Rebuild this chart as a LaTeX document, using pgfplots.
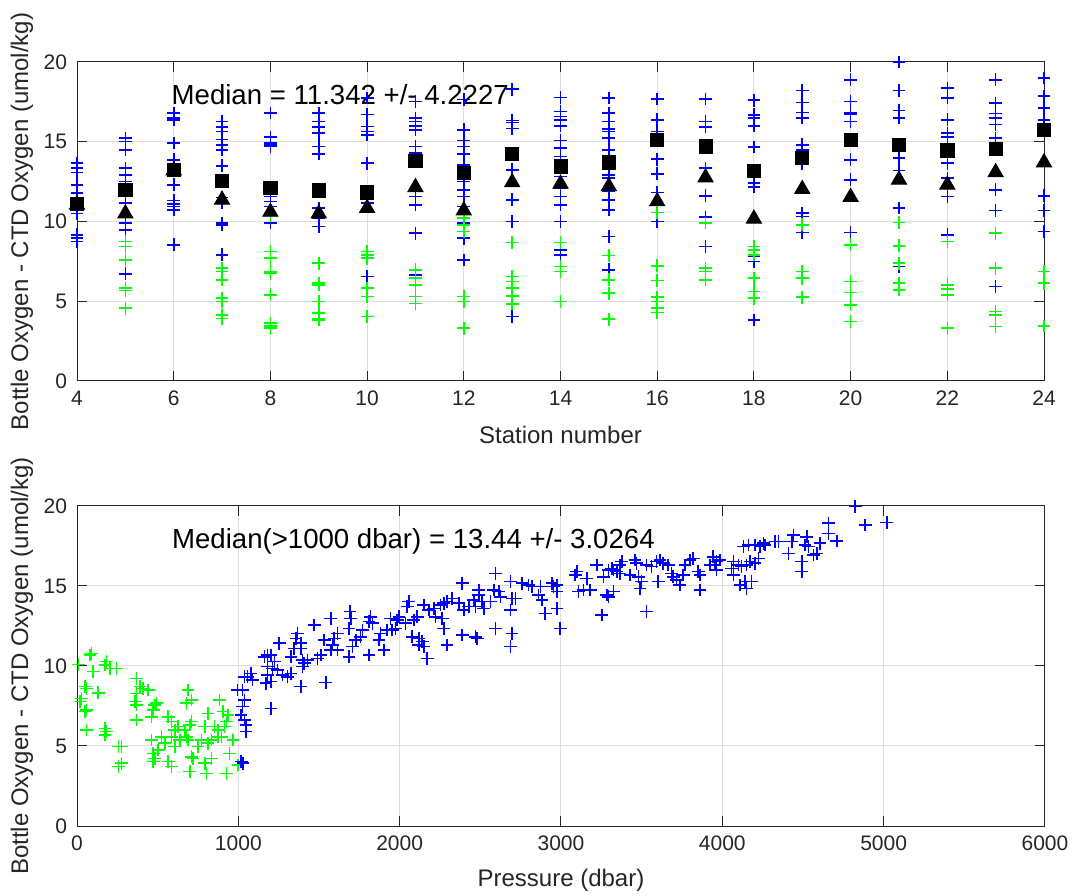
\documentclass[border=0pt]{standalone}
\usepackage{fontspec}
\setmainfont{Liberation Sans}
\usepackage{pgfplots}
\pgfplotsset{compat=1.18}
\definecolor{mblue}{rgb}{0,0,1}
\definecolor{mgreen}{rgb}{0,1,0}
\pgfplotsset{
  every axis/.append style={
    scale only axis,
    axis line style={black!85, line width=0.5bp},
    every tick/.style={black!85, line width=0.5bp},
    major tick length=5bp,
    tick align=inside,
    grid=major,
    major grid style={black!13, line width=0.5bp},
    ticklabel style={font=\fontsize{10.5bp}{12bp}\selectfont, text=black!85},
    xticklabel style={yshift=-1.5bp},
    yticklabel style={xshift=-1.5bp},
    label style={font=\fontsize{12bp}{14bp}\selectfont, text=black!85},
    /pgf/number format/assume math mode=true,
    /pgf/number format/1000 sep={},
    scaled ticks=false,
    clip=false,
    ymin=0, ymax=20, ytick={0,5,10,15,20},
  },
  bx/.style={only marks, mark=+, mark size=3.2bp, color=mblue, mark options={line width=0.8bp}},
  gx/.style={only marks, mark=+, mark size=3.2bp, color=mgreen, mark options={line width=0.8bp}},
}
\begin{document}
\begin{tikzpicture}
\fill[white] (0,0) rectangle (537.5bp,448bp);
% ---------------- top axis ----------------
\begin{axis}[
  at={(38.5bp,257.5bp)}, anchor=south west,
  width=483.5bp, height=159.5bp,
  xmin=4, xmax=24, xtick={4,6,...,24},
  xlabel={Station number},
  ylabel={Bottle Oxygen - CTD Oxygen (umol/kg)},
  xlabel style={at={(axis description cs:0.5,-0.1693)}, anchor=center},
  ylabel style={at={(axis description cs:-0.0569,0.5)}, anchor=center},
]
\addplot[bx] coordinates {
(4,13.66)(4,13.35)(4,13.07)(4,12.3)(4,11.78)(4,11.15)(4,10.94)(4,10.73)(4,10.5)(4,9.16)(4,8.95)(4,8.74)
(5,15.23)(5,15.02)(5,14.5)(5,13.35)(5,12.93)(5,12.5)(5,11.57)(5,11.15)(5,10.31)(5,9.9)(5,9.48)(5,6.72)
(6,16.8)(6,16.49)(6,16.38)(6,14.92)(6,13.87)(6,13.3)(6,12.3)(6,11.32)(6,11.1)(6,10.94)(6,10.73)(6,8.54)
(7,16.28)(7,15.92)(7,15.65)(7,15.13)(7,14.81)(7,14.5)(7,13.49)(7,11.5)(7,11.19)(7,9.9)(7,9.79)(7,7.91)
(8,16.8)(8,15.29)(8,14.92)(8,14.81)(8,14.7)(8,12.1)(8,11.57)(8,11.26)(8,10.94)(8,9.9)
(9,16.8)(9,16.28)(9,15.92)(9,15.54)(9,14.7)(9,14.25)(9,11.9)(9,10.84)(9,10.21)(9,9.69)
(10,17.74)(10,16.7)(10,15.96)(10,15.65)(10,15.44)(10,13.66)(10,11.67)(10,11.15)(10,6.55)
(11,17.53)(11,16.49)(11,16.28)(11,16.0)(11,15.75)(11,14.71)(11,14.29)(11,11.57)(11,11.05)(11,9.27)(11,6.65)
(12,17.64)(12,15.75)(12,15.08)(12,14.71)(12,14.25)(12,13.56)(12,12.51)(12,11.99)(12,11.57)(12,10.94)(12,9.9)(12,8.95)(12,7.59)
(13,18.3)(13,16.34)(13,16.21)(13,15.82)(13,13.24)(13,11.36)(13,10.0)(13,4.04)
(14,17.78)(14,16.9)(14,16.59)(14,16.38)(14,16.0)(14,15.08)(14,14.6)(14,14.08)(14,12.82)(14,12.09)(14,11.57)(14,11.05)(14,10.0)(14,8.22)(14,7.91)
(15,17.74)(15,16.8)(15,16.28)(15,15.8)(15,15.65)(15,15.23)(15,14.5)(15,13.66)(15,12.93)(15,12.72)(15,11.88)(15,11.36)(15,10.73)(15,9.06)(15,6.97)
(16,17.68)(16,16.38)(16,15.65)(16,13.91)(16,12.99)(16,11.82)(16,10.0)
(17,17.68)(17,16.28)(17,15.92)(17,13.35)(17,11.61)(17,10.27)(17,8.43)
(18,17.6)(18,16.69)(18,16.49)(18,16.0)(18,14.67)(18,12.41)(18,12.16)(18,7.8)(18,7.49)(18,3.83)
(19,18.22)(19,17.47)(19,16.84)(19,16.49)(19,14.81)(19,14.5)(19,13.66)(19,10.52)(19,10.31)(19,9.31)
(20,18.89)(20,17.53)(20,16.8)(20,16.7)(20,16.28)(20,13.87)(20,12.62)(20,9.31)
(21,20.0)(21,18.22)(21,16.97)(21,16.49)(21,14.39)(21,13.97)(21,13.2)(21,10.84)(21,7.18)
(22,18.37)(22,17.74)(22,16.38)(22,15.54)(22,15.29)(22,13.66)(22,12.72)(22,11.57)(22,9.16)
(23,18.89)(23,17.43)(23,16.76)(23,16.49)(23,16.07)(23,15.23)(23,11.99)(23,10.69)(23,5.92)
(24,19.0)(24,17.85)(24,17.11)(24,16.38)(24,11.61)(24,10.69)(24,9.37)
};
\addplot[gx] coordinates {
(5,8.74)(5,8.43)(5,7.59)(5,5.82)(5,5.67)(5,4.56)
(7,7.07)(7,6.86)(7,6.34)(7,5.19)(7,4.98)(7,4.14)(7,3.93)
(8,10.4)(8,8.12)(8,7.7)(8,6.86)(8,6.76)(8,5.4)(8,3.62)(8,3.45)(8,3.31)
(9,7.38)(9,6.13)(9,6.03)(9,4.98)(9,4.25)(9,3.93)(9,3.83)
(10,8.12)(10,7.91)(10,7.7)(10,5.82)(10,5.29)(10,4.04)
(11,6.97)(11,6.44)(11,6.03)(11,5.29)(11,4.87)
(12,10.21)(12,9.79)(12,9.37)(12,5.29)(12,4.98)(12,3.31)
(13,8.68)(13,6.55)(13,6.23)(13,5.82)(13,5.33)(13,4.83)
(14,8.68)(14,7.18)(14,6.86)(14,4.98)
(15,7.87)(15,6.34)(15,5.5)(15,3.87)
(16,10.56)(16,7.22)(16,6.3)(16,5.25)(16,4.98)(16,4.56)(16,4.29)
(17,9.9)(17,7.07)(17,6.86)(17,6.34)
(18,8.43)(18,8.22)(18,7.91)(18,6.44)(18,5.61)(18,5.19)
(19,9.79)(19,6.86)(19,6.44)(19,5.25)
(20,8.54)(20,6.23)(20,5.54)(20,4.77)(20,3.72)
(21,9.94)(21,8.47)(21,7.38)(21,6.13)(21,5.71)
(22,8.74)(22,6.03)(22,5.75)(22,5.4)(22,3.31)
(23,9.27)(23,7.07)(23,4.35)(23,4.14)(23,3.41)
(24,6.86)(24,6.13)(24,3.45)
};
\addplot[only marks, mark=square*, mark size=3.3bp, black] coordinates {
(4,11.1)(5,12.0)(6,13.24)(7,12.55)(8,12.1)(9,11.95)(10,11.82)(11,13.8)(12,13.03)(13,14.25)(14,13.45)
(15,13.7)(16,15.13)(17,14.71)(18,13.18)(19,13.97)(20,15.13)(21,14.81)(22,14.46)(23,14.54)(24,15.75)
};
\addplot[only marks, mark=triangle*, mark size=4.4bp, black] coordinates {
(4,11.05)(5,10.5)(6,13.2)(7,11.36)(8,10.6)(9,10.5)(10,10.84)(11,12.15)(12,10.69)(13,12.45)(14,12.36)
(15,12.2)(16,11.26)(17,12.76)(18,10.17)(19,12.03)(20,11.53)(21,12.62)(22,12.3)(23,13.08)(24,13.7)
};
\node[anchor=base west, inner sep=0, font=\fontsize{13.8bp}{16bp}\selectfont] at (axis cs:5.95,17.33) {Median = 11.342 +/- 4.2227};
\end{axis}
% ---------------- bottom axis ----------------
\begin{axis}[
  at={(38.5bp,35bp)}, anchor=south west,
  width=484bp, height=160bp,
  xmin=0, xmax=6000, xtick={0,1000,...,6000},
  xlabel={Pressure (dbar)},
  ylabel={Bottle Oxygen - CTD Oxygen (umol/kg)},
  xlabel style={at={(axis description cs:0.5,-0.169)}, anchor=center},
  ylabel style={at={(axis description cs:-0.0569,0.5)}, anchor=center},
]
\addplot[gx] coordinates {
(10,10.1)(91,10.79)(80,10.69)(173,10.06)(184,10.27)(204,9.85)(245,9.85)(101,9.65)(50,8.71)(60,8.6)
(132,8.33)(29,7.98)(19,7.77)(50,7.15)(60,7.25)(369,9.23)(390,8.71)(410,8.6)(441,8.5)(369,8.29)
(359,7.77)(369,7.56)(369,6.63)(482,7.56)(493,7.67)(472,7.25)(462,6.83)(565,6.83)(586,6.52)(688,8.5)
(678,7.67)(709,7.88)(884,7.88)(812,7.04)(905,7.15)(936,6.94)(926,6.52)(915,6.21)(699,6.31)(709,6.52)
(668,6.0)(678,5.58)(792,6.21)(853,6.21)(874,5.58)(895,5.58)(967,5.38)(606,6.0)(586,5.58)(462,5.38)
(472,4.54)(503,4.75)(482,4.23)(472,4.02)(565,4.02)(586,3.71)(606,4.96)(688,5.38)(709,4.33)(719,4.23)
(699,3.4)(792,3.92)(802,3.29)(833,4.23)(812,5.17)(833,5.38)(926,3.29)(946,4.54)(998,3.81)(60,6.0)
(173,6.1)(184,5.9)(173,5.69)(276,4.96)(256,4.96)(256,3.71)(276,3.92)(524,5.58)(627,6.21)(544,5.17)
(637,5.38)(750,4.96)(771,5.38)(874,6.0)
};
\addplot[bx] coordinates {
(1018,4.02)(1029,3.92)(1039,9.33)(1027,8.5)
(996,8.5)(1037,7.88)(1027,7.46)(1016,6.94)(1037,6.63)(1047,6.31)(1047,5.9)
(1692,13.40)(1697,12.98)(1573,12.98)(1470,12.56)(1820,13.08)(1831,12.67)(1810,12.77)(1944,12.98)
(1923,12.25)(1954,12.25)(1882,12.04)(1872,11.63)(1903,11.0)(1810,10.69)(1686,12.35)(1686,10.58)
(1769,12.25)(1758,11.83)(1728,11.63)(1707,11.21)(1614,12.04)(1594,11.73)(1583,11.31)(1573,11.0)
(1614,11.0)(1532,11.63)(1511,10.69)(1490,10.48)(1429,10.38)(1367,12.04)(1357,11.73)(1387,11.42)
(1346,11.1)(1326,10.58)(1408,10.17)(1398,9.96)(1253,11.42)(1181,10.69)(1161,10.58)(1202,10.69)
(1223,10.27)(1181,9.96)(1212,9.85)(1243,9.75)(1181,9.44)(1171,8.92)(1305,9.33)(1326,9.54)
(1078,9.54)(1058,9.33)(1089,9.13)(1202,7.35)(1387,8.71)(1542,8.96)(1202,9.02)(1274,9.44)
(1387,11.1)(1398,10.38)
(2387,15.17)(2593,15.79)(2583,14.75)(2614,14.65)(2686,15.27)(2696,14.23)(2686,13.5)(2758,15.17)
(2799,15.06)(2820,14.96)(2872,14.96)(2861,14.44)(2882,14.13)(2944,15.17)(2975,15.06)(2975,14.65)
(2954,14.96)(2975,13.6)(2902,13.29)(2995,12.35)(2490,14.75)(2490,14.44)(2459,14.13)(2511,14.02)
(2470,13.71)(2428,13.71)(2521,13.6)(2562,14.02)(2624,14.33)(2717,14.23)(2325,14.23)(2294,14.02)
(2274,13.92)(2253,13.81)(2212,13.6)(2181,13.5)(2150,13.81)(2057,14.02)(2047,13.71)(2088,12.88)
(2109,13.08)(2037,12.67)(1985,12.88)(1975,12.35)(1996,13.08)(2222,13.08)(2264,12.98)(2274,12.35)
(2078,11.83)(2119,11.73)(2140,11.52)(2119,11.31)(2150,11.21)(2171,10.48)(2294,11.31)(2387,11.94)
(2470,11.83)(2480,11.73)(2593,12.35)(2696,12.04)(2686,11.21)(2367,13.92)(2398,13.5)
(3098,15.9)(3088,15.69)(3160,15.48)(3222,16.31)(3263,15.58)(3294,16.0)(3315,16.1)(3325,16.0)
(3346,15.9)(3366,15.79)(3377,16.52)(3366,16.31)(3428,15.69)(3459,16.62)(3469,16.42)(3480,15.58)
(3500,15.27)(3490,14.85)(3531,16.31)(3562,16.21)(3593,16.52)(3614,16.62)(3634,16.42)(3603,15.27)
(3665,16.31)(3686,15.79)(3696,15.58)(3717,15.37)(3737,15.06)(3758,15.69)(3768,16.31)(3799,16.62)
(3820,16.73)(3851,15.9)(3861,15.69)(3861,14.75)(3923,16.31)
(3109,14.65)(3140,14.75)(3181,14.75)(3284,14.44)(3325,14.65)(3294,14.33)(3253,13.19)(3531,13.4)
(4823,19.96)(4885,18.81)(5020,18.98)(4658,18.92)(4658,18.29)(4710,17.81)(4606,17.67)(4523,18.08)
(4534,17.46)(4513,17.56)(4565,16.94)(4585,17.04)(4492,16.52)(4492,15.9)(4440,18.19)(4430,17.77)
(4409,17.04)(4347,17.77)(4327,17.77)(4264,17.56)(4254,17.67)(4233,17.46)(4202,17.56)(4161,17.56)
(4130,17.46)(4223,16.73)(4202,16.42)(4171,16.52)(4151,16.31)(4140,15.27)(4151,14.85)(4182,15.27)
(4109,15.06)(4068,16.52)(4057,16.1)(4068,15.69)(4099,16.31)(4120,16.21)(3985,16.62)(3964,16.52)
(3954,16.31)(3964,16.0)(3944,16.83)
};
\node[anchor=base west, inner sep=0, font=\fontsize{13.8bp}{16bp}\selectfont] at (axis cs:587,17.36) {Median(>1000 dbar) = 13.44 +/- 3.0264};
\end{axis}
\pgfresetboundingbox
\path (0,0) rectangle (537.5bp,448bp);
\end{tikzpicture}
\end{document}
